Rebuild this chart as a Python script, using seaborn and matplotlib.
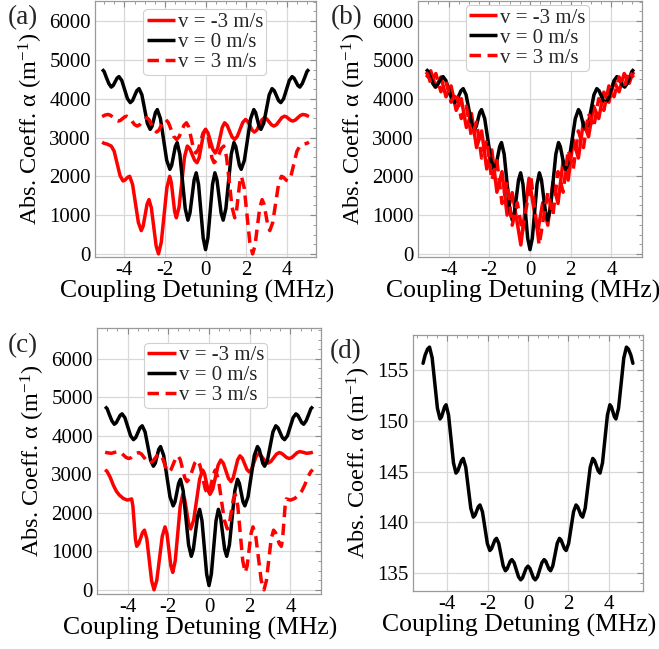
import matplotlib
matplotlib.use("Agg")
import matplotlib.pyplot as plt
import seaborn as sns
from matplotlib.ticker import AutoMinorLocator, MultipleLocator

# ---------------------------------------------------------------- data
# v = 0 m/s absorption coefficient (shared by panels a, b, c)
v0_x = [-5.1, -5.0, -4.9, -4.77, -4.65, -4.555, -4.46, -4.365, -4.27, -4.13, -3.99, -3.85,
        -3.71, -3.6, -3.495, -3.39, -3.28, -3.14, -3.005, -2.87, -2.73, -2.64, -2.555, -2.47,
        -2.38, -2.225, -2.07, -1.915, -1.76, -1.67, -1.58, -1.49, -1.40, -1.268, -1.135, -1.003,
        -0.87, -0.768, -0.665, -0.563, -0.46, -0.345, -0.23, -0.115, 0.0,
        0.115, 0.23, 0.345, 0.46, 0.563, 0.665, 0.768, 0.87, 1.003, 1.135, 1.268, 1.40,
        1.49, 1.58, 1.67, 1.76, 1.915, 2.07, 2.225, 2.38, 2.47, 2.555, 2.64, 2.73,
        2.87, 3.005, 3.14, 3.28, 3.39, 3.495, 3.6, 3.71, 3.85, 3.99, 4.13, 4.27,
        4.365, 4.46, 4.555, 4.65, 4.77, 4.9, 5.0, 5.1]
v0_y = [4760, 4700, 4560, 4390, 4300, 4340, 4435, 4530, 4570, 4470, 4235, 4000,
        3900, 3954, 4080, 4206, 4260, 4102, 3735, 3367, 3210, 3287, 3465, 3643,
        3720, 3489, 2950, 2411, 2180, 2284, 2525, 2767, 2870, 2570, 1870, 1170,
        870, 1053, 1480, 1907, 2090, 1793, 1100, 407, 110,
        407, 1100, 1793, 2090, 1907, 1480, 1053, 870, 1170, 1870, 2570, 2870,
        2767, 2525, 2284, 2180, 2411, 2950, 3489, 3720, 3643, 3465, 3287, 3210,
        3367, 3735, 4102, 4260, 4206, 4080, 3954, 3900, 4000, 4235, 4470, 4570,
        4530, 4435, 4340, 4300, 4390, 4560, 4700, 4760]

# panel (a): v = -3 m/s and v = +3 m/s
a_neg_x = [-5.1, -5.0, -4.85, -4.65, -4.505, -4.36, -4.215, -4.07, -3.988, -3.905, -3.823, -3.74,
           -3.598, -3.455, -3.313, -3.17, -3.075, -2.98, -2.885, -2.79, -2.673, -2.555, -2.438, -2.32,
           -2.183, -2.045, -1.908, -1.77, -1.688, -1.605, -1.523, -1.44, -1.305, -1.17, -1.035, -0.9,
           -0.78, -0.66, -0.54, -0.42, -0.315, -0.21, -0.105, 0.0, 0.12, 0.24, 0.36, 0.48,
           0.595, 0.71, 0.825, 0.94, 1.063, 1.185, 1.308, 1.43, 1.565, 1.7, 1.835, 1.97,
           2.08, 2.19, 2.3, 2.41, 2.533, 2.655, 2.778, 2.9, 3.018, 3.135, 3.253, 3.37,
           3.5, 3.63, 3.76, 3.89, 3.993, 4.095, 4.198, 4.3, 4.425, 4.55, 4.675, 4.8, 4.95, 5.1]
a_neg_y = [2880, 2850, 2830, 2780, 2645, 2330, 2015, 1880, 1898, 1940, 1982, 2000,
           1790, 1300, 810, 600, 720, 1000, 1280, 1400, 1190, 700, 210, 0,
           300, 1000, 1700, 2000, 1840, 1465, 1090, 930, 1208, 1855, 2503, 2780,
           2716, 2565, 2415, 2350, 2479, 2780, 3081, 3210, 3119, 2905, 2692, 2600,
           2717, 2990, 3263, 3380, 3316, 3165, 3015, 2950, 3027, 3208, 3388, 3465,
           3416, 3303, 3189, 3140, 3196, 3325, 3455, 3510, 3478, 3403, 3327, 3295,
           3333, 3423, 3512, 3550, 3531, 3487, 3443, 3424, 3450, 3510, 3569, 3595, 3580, 3540]
a_pos_x = [-5.1, -4.95, -4.8, -4.675, -4.55, -4.425, -4.3, -4.198, -4.095, -3.993, -3.89, -3.76,
           -3.63, -3.5, -3.37, -3.253, -3.135, -3.018, -2.9, -2.778, -2.655, -2.533, -2.41, -2.3,
           -2.19, -2.08, -1.97, -1.835, -1.7, -1.565, -1.43, -1.308, -1.185, -1.063, -0.94, -0.825,
           -0.71, -0.595, -0.48, -0.36, -0.24, -0.12, 0.0, 0.105, 0.21, 0.315, 0.42, 0.54,
           0.66, 0.78, 0.9, 1.035, 1.17, 1.305, 1.44, 1.523, 1.605, 1.688, 1.77, 1.908,
           2.045, 2.183, 2.32, 2.438, 2.555, 2.673, 2.79, 2.885, 2.98, 3.075, 3.17, 3.313,
           3.455, 3.598, 3.74, 3.823, 3.905, 3.988, 4.07, 4.215, 4.36, 4.505, 4.65, 4.85, 5.0, 5.1]
a_pos_y = [3540, 3580, 3595, 3569, 3510, 3450, 3424, 3443, 3487, 3531, 3550, 3512,
           3423, 3333, 3295, 3327, 3403, 3478, 3510, 3455, 3325, 3196, 3140, 3189,
           3303, 3416, 3465, 3388, 3208, 3027, 2950, 3015, 3165, 3316, 3380, 3263,
           2990, 2717, 2600, 2692, 2905, 3119, 3210, 3081, 2780, 2479, 2350, 2415,
           2565, 2716, 2780, 2503, 1855, 1208, 930, 1090, 1465, 1840, 2000, 1700,
           1000, 300, 0, 210, 700, 1190, 1400, 1280, 1000, 720, 600, 810,
           1300, 1790, 2000, 1982, 1940, 1898, 1880, 2015, 2330, 2645, 2780, 2830, 2850, 2880]

# panel (b): v = -3 m/s and v = +3 m/s
b_neg_x = [-5.1, -5.0, -4.875, -4.625, -4.375, -4.125, -3.875, -3.625, -3.375, -3.125,
           -2.875, -2.625, -2.375, -2.125, -1.875, -1.625, -1.375, -1.125, -0.875, -0.65,
           -0.45, -0.05, 0.375, 0.625, 0.875, 1.125, 1.375, 1.625, 1.875, 2.125,
           2.375, 2.625, 2.875, 3.125, 3.375, 3.625, 3.875, 4.125, 4.375, 4.625,
           4.875, 5.0, 5.1]
b_neg_y = [4550, 4600, 4720, 4300, 4560, 4050, 4330, 3700, 4000, 3260,
           3620, 2740, 3170, 2190, 2680, 1590, 2120, 1000, 1580, 880,
           230, 1950, 560, 1320, 740, 1850, 1300, 2400, 1900, 2940,
           2470, 3400, 3020, 3810, 3490, 4170, 3910, 4450, 4180, 4650,
           4400, 4600, 4690]
b_pos_x = [-5.1, -5.0, -4.875, -4.625, -4.375, -4.125, -3.875, -3.625, -3.375, -3.125,
           -2.875, -2.625, -2.375, -2.125, -1.875, -1.625, -1.375, -1.125, -0.875, -0.625,
           -0.375, 0.05, 0.45, 0.65, 0.875, 1.125, 1.375, 1.625, 1.875, 2.125,
           2.375, 2.625, 2.875, 3.125, 3.375, 3.625, 3.875, 4.125, 4.375, 4.625,
           4.875, 5.0, 5.1]
b_pos_y = [4690, 4600, 4400, 4650, 4180, 4450, 3910, 4170, 3490, 3810,
           3020, 3400, 2470, 2940, 1900, 2400, 1300, 1850, 740, 1320,
           560, 1950, 230, 880, 1580, 1000, 2120, 1590, 2680, 2190,
           3170, 2740, 3620, 3260, 4000, 3700, 4330, 4050, 4560, 4300,
           4720, 4600, 4550]

# panel (c): v = -3 m/s and v = +3 m/s
c_neg_x = [-5.1, -5.0, -4.85, -4.7, -4.55, -4.4, -4.2, -4.0, -3.9, -3.8,
           -3.738, -3.675, -3.613, -3.55, -3.455, -3.36, -3.265, -3.17, -3.053, -2.935, -2.818, -2.7,
           -2.565, -2.43, -2.295, -2.16, -2.065, -1.97, -1.875, -1.78, -1.658, -1.535, -1.413, -1.29,
           -1.193, -1.095, -0.998, -0.9, -0.753, -0.605, -0.458, -0.31, -0.22, -0.13, -0.04, 0.05,
           0.183, 0.315, 0.448, 0.58, 0.705, 0.83, 0.955, 1.08, 1.19, 1.3, 1.41, 1.52,
           1.635, 1.75, 1.865, 1.98, 2.09, 2.2, 2.31, 2.42, 2.54, 2.66, 2.78, 2.9,
           3.038, 3.175, 3.313, 3.45, 3.573, 3.695, 3.818, 3.94, 4.07, 4.2, 4.33, 4.46,
           4.63, 4.8, 5.0, 5.1]
c_neg_y = [3120, 3070, 2920, 2720, 2560, 2460, 2370, 2330, 2345, 2360,
           2176, 1745, 1315, 1130, 1193, 1340, 1487, 1550, 1318, 775, 233, 0,
           245, 818, 1390, 1635, 1457, 1043, 628, 450, 755, 1465, 2176, 2480,
           2345, 2030, 1715, 1580, 1810, 2345, 2880, 3110, 3016, 2795, 2575, 2480,
           2614, 2925, 3237, 3370, 3286, 3090, 2894, 2810, 2911, 3145, 3380, 3480,
           3417, 3270, 3123, 3060, 3131, 3295, 3460, 3530, 3494, 3410, 3326, 3290,
           3331, 3428, 3524, 3565, 3542, 3488, 3433, 3410, 3437, 3500, 3563, 3590,
           3570, 3545, 3560, 3575]
c_pos_x = [-5.1, -5.0, -4.8, -4.63, -4.46, -4.33, -4.2, -4.07, -3.94, -3.818, -3.695, -3.573,
           -3.45, -3.313, -3.175, -3.038, -2.9, -2.78, -2.66, -2.54, -2.42, -2.31, -2.2, -2.09,
           -1.98, -1.865, -1.75, -1.635, -1.52, -1.41, -1.3, -1.19, -1.08, -0.955, -0.83, -0.705,
           -0.58, -0.448, -0.315, -0.183, -0.05, 0.04, 0.13, 0.22, 0.31, 0.458, 0.605, 0.753,
           0.9, 0.998, 1.095, 1.193, 1.29, 1.413, 1.535, 1.658, 1.78, 1.875, 1.97, 2.065,
           2.16, 2.295, 2.43, 2.565, 2.7, 2.818, 2.935, 3.053, 3.17, 3.265, 3.36, 3.455,
           3.55, 3.613, 3.675, 3.738, 3.8, 3.9, 4.0, 4.2, 4.4, 4.55, 4.7, 4.85, 5.0, 5.1]
c_pos_y = [3575, 3560, 3545, 3570, 3590, 3563, 3500, 3437, 3410, 3433, 3488, 3542,
           3565, 3524, 3428, 3331, 3290, 3326, 3410, 3494, 3530, 3460, 3295, 3131,
           3060, 3123, 3270, 3417, 3480, 3380, 3145, 2911, 2810, 2894, 3090, 3286,
           3370, 3237, 2925, 2614, 2480, 2575, 2795, 3016, 3110, 2880, 2345, 1810,
           1580, 1715, 2030, 2345, 2480, 2176, 1465, 755, 450, 628, 1043, 1457,
           1635, 1390, 818, 245, 0, 233, 775, 1318, 1550, 1487, 1340, 1193,
           1130, 1315, 1745, 2176, 2360, 2345, 2330, 2370, 2460, 2560, 2720, 2920, 3070, 3120]

# panel (d): v = 0 m/s, narrow range
d_x = [-5.2, -5.1, -4.98, -4.88, -4.75, -4.62, -4.49, -4.36, -4.285, -4.21, -4.135, -4.06,
       -3.938, -3.815, -3.693, -3.57, -3.48, -3.39, -3.3, -3.21, -3.085, -2.96, -2.835, -2.71,
       -2.628, -2.545, -2.463, -2.38, -2.258, -2.135, -2.013, -1.89, -1.808, -1.725, -1.643, -1.56,
       -1.45, -1.34, -1.23, -1.12, -1.04, -0.96, -0.88, -0.80, -0.69, -0.58, -0.47, -0.36,
       -0.27, -0.18, -0.09, 0.0, 0.09, 0.18, 0.27,
       0.36, 0.47, 0.58, 0.69, 0.80, 0.88, 0.96, 1.04, 1.12, 1.23, 1.34, 1.45,
       1.56, 1.643, 1.725, 1.808, 1.89, 2.013, 2.135, 2.258, 2.38, 2.463, 2.545, 2.628,
       2.71, 2.835, 2.96, 3.085, 3.21, 3.3, 3.39, 3.48, 3.57, 3.693, 3.815, 3.938,
       4.06, 4.135, 4.21, 4.285, 4.36, 4.49, 4.62, 4.75, 4.88, 4.98, 5.1, 5.2]
d_y = [155.7, 156.5, 157.1, 157.3, 156.24, 153.75, 151.27, 150.2, 150.41, 150.9, 151.39, 151.6,
       150.59, 148.23, 145.86, 144.85, 145.07, 145.58, 146.08, 146.3, 145.43, 143.4, 141.37, 140.5,
       140.68, 141.1, 141.52, 141.7, 141.03, 139.45, 137.88, 137.2, 137.38, 137.8, 138.22, 138.4,
       137.92, 136.8, 135.68, 135.2, 135.37, 135.75, 136.14, 136.3, 136.0, 135.3, 134.6, 134.3,
       134.5, 134.98, 135.45, 135.65, 135.45, 134.98, 134.5,
       134.3, 134.6, 135.3, 136.0, 136.3, 136.14, 135.75, 135.37, 135.2, 135.68, 136.8, 137.92,
       138.4, 138.22, 137.8, 137.38, 137.2, 137.88, 139.45, 141.03, 141.7, 141.52, 141.1, 140.68,
       140.5, 141.37, 143.4, 145.43, 146.3, 146.08, 145.58, 145.07, 144.85, 145.86, 148.23, 150.59,
       151.6, 151.39, 150.9, 150.41, 150.2, 151.27, 153.75, 156.24, 157.3, 157.1, 156.5, 155.7]

labels = ["v = -3 m/s", "v = 0 m/s", "v = 3 m/s"]
x_ticks = [-4, -2, 0, 2, 4]
panel_tags = ["(a)", "(b)", "(c)", "(d)"]

# ---------------------------------------------------------------- style
sns.set_theme(style="whitegrid")
plt.rcParams["font.family"] = ["Liberation Serif", "DejaVu Serif"]
plt.rcParams["mathtext.fontset"] = "custom"
plt.rcParams["mathtext.rm"] = "Liberation Serif"
plt.rcParams["mathtext.it"] = "Liberation Serif:italic"
plt.rcParams["axes.unicode_minus"] = False

RED = "#ff0000"
LW = 2.5
DASH = (0, (3.3, 1.9))
TICK_FS = 15
XLABEL_FS = 18.5
YLABEL_FS = 17.5
YLABEL = r"Abs. Coeff. $\mathregular{\alpha}$ (m$^{\mathregular{-1}}$)"

fig = plt.figure(figsize=(6.59, 6.49), dpi=100)
ax_a = fig.add_axes([0.1442, 0.6040, 0.3354, 0.3945])
ax_b = fig.add_axes([0.6343, 0.6040, 0.3399, 0.3945])
ax_c = fig.add_axes([0.1472, 0.0847, 0.3399, 0.4099])
ax_d = fig.add_axes([0.6267, 0.0894, 0.3490, 0.3945])


def style(ax, ylim, xlim, ymajor, yminor, xlab_x):
    ax.set_xlim(*xlim)
    ax.set_ylim(*ylim)
    ax.set_facecolor("white")
    ax.xaxis.set_major_locator(MultipleLocator(2))
    ax.xaxis.set_minor_locator(AutoMinorLocator(4))
    ax.yaxis.set_major_locator(MultipleLocator(ymajor))
    ax.yaxis.set_minor_locator(AutoMinorLocator(yminor))
    ax.grid(True, which="major", color="#d8d8d8", linewidth=0.9)
    ax.grid(False, which="minor")
    for s in ax.spines.values():
        s.set_color("#9a9a9a")
        s.set_linewidth(0.9)
    ax.tick_params(which="both", direction="in", top=True, right=True,
                   color="#8a8a8a", labelsize=TICK_FS, labelcolor="black")
    ax.tick_params(which="major", length=4.5, width=0.8, pad=3)
    ax.tick_params(which="minor", length=2.5, width=0.6)
    ax.set_xticks(x_ticks)
    ax.set_xticklabels([str(t) for t in x_ticks])
    ax.set_xlabel("Coupling Detuning (MHz)", fontsize=XLABEL_FS, labelpad=0,
                  color="black", x=xlab_x)
    ax.set_ylabel(YLABEL, fontsize=YLABEL_FS, labelpad=3, color="black")


def three_curves(ax, nx, ny, px, py, legend_anchor):
    sns.lineplot(x=nx, y=ny, ax=ax, color=RED, lw=LW, sort=False, estimator=None,
                 label=labels[0], solid_joinstyle="round", solid_capstyle="butt")
    sns.lineplot(x=v0_x, y=v0_y, ax=ax, color="black", lw=LW, sort=False, estimator=None,
                 label=labels[1], solid_joinstyle="round", solid_capstyle="butt")
    sns.lineplot(x=px, y=py, ax=ax, color=RED, lw=LW, sort=False, estimator=None,
                 label=labels[2], linestyle=DASH, dash_joinstyle="round")
    leg = ax.legend(loc="upper right", bbox_to_anchor=legend_anchor, fontsize=15,
                    frameon=True, fancybox=True, framealpha=1, edgecolor="#d0d0d0",
                    handlelength=1.35, handletextpad=0.15, borderpad=0.15,
                    labelspacing=0.02, borderaxespad=0.0)
    leg.get_frame().set_linewidth(0.8)


three_curves(ax_a, a_neg_x, a_neg_y, a_pos_x, a_pos_y, (0.775, 0.968))
style(ax_a, (-80, 6520), (-5.45, 5.45), 1000, 4, 0.46)

three_curves(ax_b, b_neg_x, b_neg_y, b_pos_x, b_pos_y, (0.762, 0.985))
style(ax_b, (-80, 6520), (-5.5, 5.5), 1000, 4, 0.47)

three_curves(ax_c, c_neg_x, c_neg_y, c_pos_x, c_pos_y, (0.76, 0.945))
style(ax_c, (-110, 6800), (-5.5, 5.5), 1000, 4, 0.46)

sns.lineplot(x=d_x, y=d_y, ax=ax_d, color="black", lw=LW, sort=False, estimator=None,
             solid_joinstyle="round")
style(ax_d, (133.2, 158.5), (-5.7, 5.7), 5, 5, 0.46)

tag_pos = [(0.012, 0.992), (0.502, 0.992), (0.012, 0.486), (0.5, 0.477)]
for txt, (x, y) in zip(panel_tags, tag_pos):
    fig.text(x, y, txt, fontsize=19.5, ha="left", va="top")

fig.savefig("out.png", dpi=100)
